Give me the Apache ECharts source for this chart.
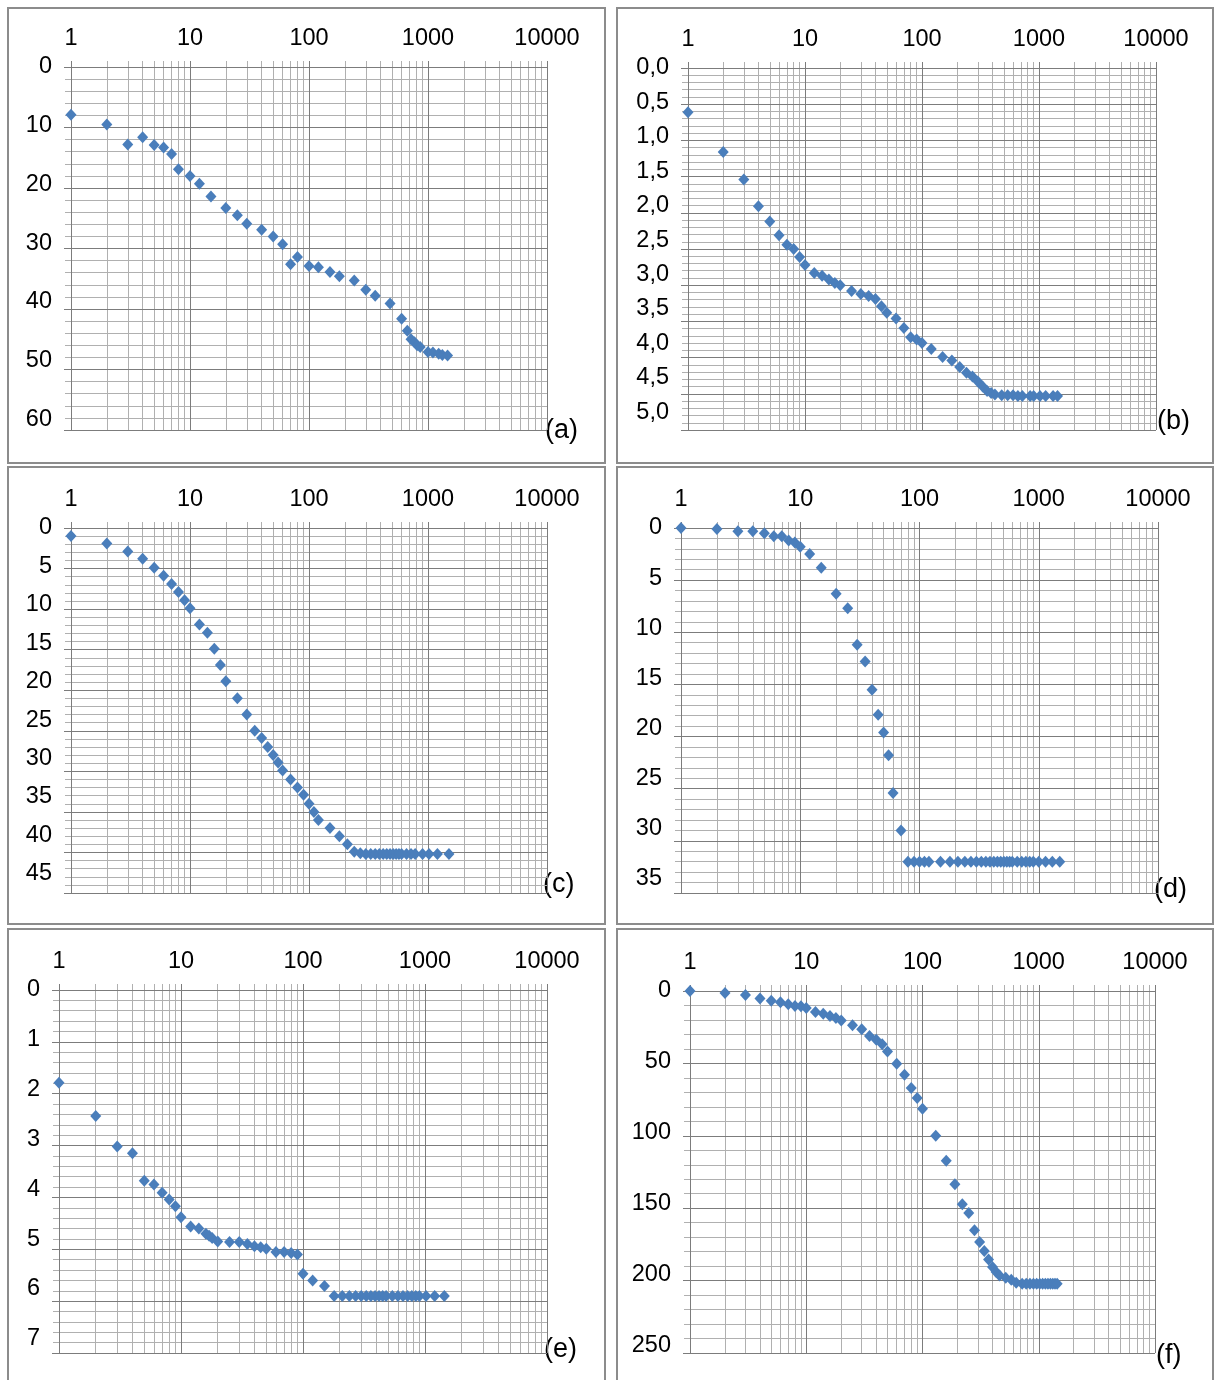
<!DOCTYPE html>
<html>
<head>
<meta charset="utf-8">
<script src="https://cdn.jsdelivr.net/npm/echarts@6/dist/echarts.min.js"></script>
<style>
html,body{margin:0;padding:0;background:#fff;}
#c{width:1219px;height:1380px;}
</style>
</head>
<body>
<div id="c"></div>
<script>
// ---------- data ----------
const xTickLabels = ['1', '10', '100', '1000', '10000'];

const yTicksA = [0, 10, 20, 30, 40, 50, 60];
const yTicksB = [0, 0.5, 1.0, 1.5, 2.0, 2.5, 3.0, 3.5, 4.0, 4.5, 5.0];
const yTicksC = [0, 5, 10, 15, 20, 25, 30, 35, 40, 45];
const yTicksD = [0, 5, 10, 15, 20, 25, 30, 35];
const yTicksE = [0, 1, 2, 3, 4, 5, 6, 7];
const yTicksF = [0, 50, 100, 150, 200, 250];

const xA = [1,2,3,4,5,6,7,8,10,12,15,20,25,30,40,50,60,70,80,100,120,150,180,240,300,360,480,600,670,720,770,810,860,1000,1100,1230,1320,1460];
const yA = [7.9,9.5,12.8,11.6,12.9,13.3,14.4,16.9,18.0,19.3,21.4,23.3,24.5,25.9,26.9,28.0,29.3,32.6,31.4,32.9,33.1,33.9,34.6,35.3,36.8,37.8,39.1,41.6,43.6,45.0,45.5,46.0,46.3,47.1,47.2,47.4,47.6,47.7];

const xB = [1,2,3,4,5,6,7,8,9,10,12,14,16,18,20,25,30,35,40,45,50,60,70,80,90,100,120,150,180,210,240,270,300,330,360,390,420,480,540,600,660,720,840,900,1020,1140,1320,1440];
const yB = [0.61,1.16,1.54,1.91,2.12,2.31,2.44,2.50,2.61,2.72,2.83,2.87,2.92,2.97,3.00,3.08,3.12,3.15,3.19,3.29,3.38,3.46,3.59,3.72,3.75,3.80,3.88,3.99,4.04,4.13,4.21,4.26,4.33,4.40,4.46,4.49,4.51,4.52,4.52,4.52,4.53,4.53,4.53,4.53,4.53,4.53,4.53,4.53];

const xC = [1,2,3,4,5,6,7,8,9,10,12,14,16,18,20,25,30,35,40,45,50,55,60,70,80,90,100,110,120,150,180,210,240,270,300,330,360,390,420,450,480,510,540,570,600,660,720,780,900,1020,1200,1500];
const yC = [1.0,1.9,2.9,3.8,4.9,5.9,6.9,7.9,8.9,9.9,11.9,12.9,14.9,16.9,18.9,21.0,23.0,25.0,25.9,27.0,28.0,28.9,29.9,31.0,32.0,32.9,34.0,35.0,36.0,37.0,38.0,39.0,39.9,40.1,40.2,40.2,40.2,40.2,40.2,40.2,40.2,40.2,40.2,40.2,40.2,40.2,40.2,40.2,40.2,40.2,40.2,40.2];

const xD = [1,2,3,4,5,6,7,8,9,10,12,15,20,25,30,35,40,45,50,55,60,70,80,90,100,110,120,150,180,210,240,270,300,330,360,390,420,450,480,510,540,570,600,660,720,780,840,900,1000,1140,1300,1500];
const yD = [0,0.1,0.3,0.3,0.5,0.8,0.8,1.2,1.4,1.8,2.5,3.8,6.3,7.7,11.2,12.8,15.5,17.9,19.6,21.8,25.4,29.0,32.0,32.0,32.0,32.0,32.0,32.0,32.0,32.0,32.0,32.0,32.0,32.0,32.0,32.0,32.0,32.0,32.0,32.0,32.0,32.0,32.0,32.0,32.0,32.0,32.0,32.0,32.0,32.0,32.0,32.0];

const xE = [1,2,3,4,5,6,7,8,9,10,12,14,16,17,18,20,25,30,35,40,45,50,60,70,80,90,100,120,150,180,210,240,270,300,330,360,390,420,450,480,540,600,660,720,780,840,900,1020,1200,1440];
const yE = [1.79,2.43,3.02,3.15,3.68,3.75,3.91,4.04,4.17,4.38,4.56,4.60,4.70,4.74,4.78,4.85,4.86,4.86,4.90,4.94,4.96,4.99,5.05,5.05,5.07,5.10,5.47,5.60,5.71,5.90,5.90,5.90,5.90,5.90,5.90,5.90,5.90,5.90,5.90,5.90,5.90,5.90,5.90,5.90,5.90,5.90,5.90,5.90,5.90,5.90];

const xF = [1,2,3,4,5,6,7,8,9,10,12,14,16,18,20,25,30,35,40,45,50,60,70,80,90,100,130,160,190,220,250,280,310,340,370,400,430,460,520,580,640,720,780,840,900,960,1020,1080,1140,1200,1260,1320,1380,1440];
const yF = [0,1.4,2.8,5.1,6.7,7.8,9.2,10.4,10.6,11.7,14.5,15.7,17.3,18.6,20.3,23.7,26.5,31.1,33.6,36.8,41.7,50.2,57.8,67.0,73.9,81.3,100.0,117.2,133.5,147.3,153.3,165.3,173.3,179.6,185.5,190.6,194.1,196.4,198.0,199.4,201.4,202.1,202.1,202.1,202.1,202.1,202.1,202.1,202.1,202.1,202.1,202.1,202.1,202.1];

// ---------- layout / style ----------
const FONT = '"Liberation Sans", Arial, sans-serif';
const MAJOR = '#7c7c7c';
const MINOR = '#b0b0b0';
const BLUE = '#4A7EBB';

const panels = [
  {xs: xA, ys: yA, yt: yTicksA, dec: 0, letter: '(a)', grid: {left: 71, top: 67, width: 476, height: 363}, lab: 1.031, lp: [545, 431]},
  {xs: xB, ys: yB, yt: yTicksB, dec: 1, letter: '(b)', grid: {left: 688, top: 68, width: 468, height: 362}, lab: 1.052, lp: [1157, 422]},
  {xs: xC, ys: yC, yt: yTicksC, dec: 0, letter: '(c)', grid: {left: 71, top: 528, width: 476, height: 365}, lab: 1.056, lp: [543, 885]},
  {xs: xD, ys: yD, yt: yTicksD, dec: 0, letter: '(d)', grid: {left: 681, top: 528, width: 477, height: 365}, lab: 1.041, lp: [1154, 890]},
  {xs: xE, ys: yE, yt: yTicksE, dec: 0, letter: '(e)', grid: {left: 59, top: 990, width: 488, height: 363}, lab: 1.041, lp: [544, 1350]},
  {xs: xF, ys: yF, yt: yTicksF, dec: 0, letter: '(f)', grid: {left: 690, top: 991, width: 465, height: 362}, lab: 1.020, lp: [1156, 1356]}
];

const cells = [
  [8, 8, 597, 455], [617, 8, 596, 455],
  [8, 467, 597, 457], [617, 467, 596, 457],
  [8, 929, 597, 470], [617, 929, 596, 470]
];

// minor decade positions on a linear log10 helper axis
const minorLogs = [];
for (let d = 0; d < 4; d++) {
  for (let k = 2; k <= 9; k++) minorLogs.push(d + Math.log10(k));
}

const option = {
  animation: false,
  backgroundColor: '#fff',
  grid: [], xAxis: [], yAxis: [], series: [],
  graphic: []
};

panels.forEach((p, i) => {
  const yMin = p.yt[0];
  const yMax = p.yt[p.yt.length - 1];
  const step = p.yt[1] - p.yt[0];
  option.grid.push(Object.assign({containLabel: false}, p.grid));

  // main log x axis (top)
  option.xAxis.push({
    type: 'log', logBase: 10, min: 1, max: 10000, gridIndex: i, position: 'top', z: 2,
    axisLine: {show: true, lineStyle: {color: MAJOR, width: 1}},
    axisTick: {show: true, inside: false, length: 6, lineStyle: {color: MAJOR}},
    axisLabel: {
      show: true, margin: 16, color: '#000', fontSize: 23.5, fontFamily: FONT,
      formatter: v => xTickLabels[Math.round(Math.log10(v))]
    },
    splitLine: {show: true, lineStyle: {color: MAJOR, width: 1}}
  });
  // helper axis for minor decade lines
  option.xAxis.push({
    type: 'value', min: 0, max: 4, interval: 1, gridIndex: i, position: 'top', z: 1,
    axisLine: {show: false},
    axisLabel: {show: false},
    axisTick: {show: true, inside: false, length: 6, customValues: minorLogs, lineStyle: {color: MINOR}},
    splitLine: {show: true, lineStyle: {color: MINOR, width: 1}}
  });

  // main y axis (grid + ticks)
  option.yAxis.push({
    type: 'value', inverse: true, min: yMin, max: yMax, interval: step, gridIndex: i, position: 'left', z: 2,
    axisLine: {show: true, lineStyle: {color: MAJOR, width: 1}},
    axisTick: {show: true, inside: false, length: 7, lineStyle: {color: MAJOR}},
    minorTick: {show: true, splitNumber: 5, length: 6, lineStyle: {color: MINOR}},
    axisLabel: {show: false},
    splitLine: {show: true, lineStyle: {color: MAJOR, width: 1}},
    minorSplitLine: {show: true, lineStyle: {color: MINOR, width: 1}}
  });
  // label-only y axis
  option.yAxis.push({
    type: 'value', inverse: true, min: yMin, max: yMax * p.lab, interval: step, gridIndex: i, position: 'left',
    axisLine: {show: false}, axisTick: {show: false}, splitLine: {show: false},
    axisLabel: {
      show: true, margin: 19, color: '#000', fontSize: 23.5, fontFamily: FONT,
      padding: [3, 0, 0, 0],
      showMaxLabel: false,
      formatter: v => (p.dec ? v.toFixed(p.dec).replace('.', ',') : String(Math.round(v)))
    }
  });

  option.series.push({
    type: 'scatter', xAxisIndex: 2 * i, yAxisIndex: 2 * i, z: 5,
    symbol: 'diamond', symbolSize: [11, 12],
    itemStyle: {color: BLUE, opacity: 1},
    data: p.xs.map((x, j) => [x, p.ys[j]])
  });

  option.graphic.push({
    type: 'text', left: p.lp[0], top: p.lp[1] - 14, silent: true,
    style: {text: p.letter, fill: '#000', font: '27px ' + FONT, textVerticalAlign: 'top'}
  });
});

cells.forEach(c => {
  option.graphic.push({
    type: 'rect', silent: true, z: 0,
    shape: {x: c[0], y: c[1], width: c[2], height: c[3]},
    style: {fill: 'none', stroke: '#8c8c8c', lineWidth: 2}
  });
});

const chart = echarts.init(document.getElementById('c'), null, {renderer: 'canvas', width: 1219, height: 1380});
chart.setOption(option);
</script>
</body>
</html>
